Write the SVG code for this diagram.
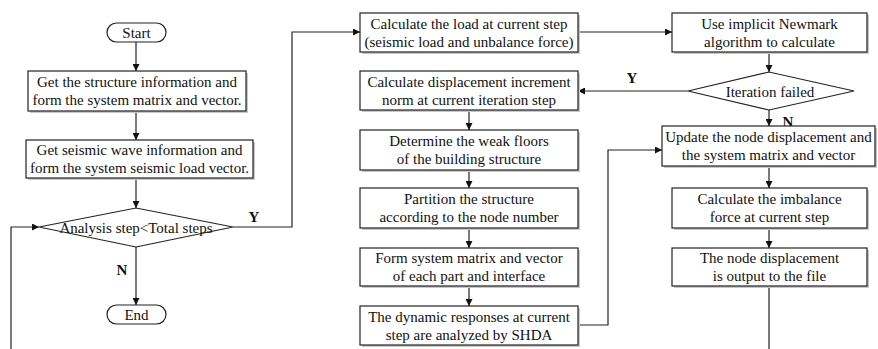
<svg xmlns="http://www.w3.org/2000/svg" width="878" height="349" viewBox="0 0 878 349">
<defs>
<marker id="arr" viewBox="0 0 10 10" refX="10" refY="5" markerWidth="7" markerHeight="7" markerUnits="userSpaceOnUse" orient="auto">
<path d="M0,0 L10,5 L0,10 z" fill="#111"/>
</marker>
</defs>
<style>
.bx{fill:#fff;stroke:#222;stroke-width:1.2}
.sh{fill:#c8c8c8;stroke:none}
.t{font-family:'Liberation Serif','Times New Roman',serif;font-size:15px;fill:#111;text-anchor:middle}
.lb{font-family:'Liberation Serif','Times New Roman',serif;font-size:15px;font-weight:bold;fill:#111;text-anchor:middle}
.c{fill:none;stroke:#222;stroke-width:1.2}
</style>
<rect width="878" height="349" fill="#fff"/>
<g id="connectors">
<path class="c" d="M136,42 V71" marker-end="url(#arr)"/>
<path class="c" d="M136,111 V140" marker-end="url(#arr)"/>
<path class="c" d="M136,178 V208" marker-end="url(#arr)"/>
<path class="c" d="M233,227 H292 V32 H360" marker-end="url(#arr)"/>
<path class="c" d="M136,247 V305" marker-end="url(#arr)"/>
<path class="c" d="M11,349 V227 H39" marker-end="url(#arr)"/>
<path class="c" d="M578,32 H672" marker-end="url(#arr)"/>
<path class="c" d="M769,52 V72" marker-end="url(#arr)"/>
<path class="c" d="M688,91 H578" marker-end="url(#arr)"/>
<path class="c" d="M769,110 V126" marker-end="url(#arr)"/>
<path class="c" d="M769,166 V188" marker-end="url(#arr)"/>
<path class="c" d="M769,228 V248" marker-end="url(#arr)"/>
<path class="c" d="M769,286 V349"/>
<path class="c" d="M469,110 V130" marker-end="url(#arr)"/>
<path class="c" d="M469,170 V188" marker-end="url(#arr)"/>
<path class="c" d="M469,228 V248" marker-end="url(#arr)"/>
<path class="c" d="M469,286 V306" marker-end="url(#arr)"/>
<path class="c" d="M578,325 H608 V150 H662" marker-end="url(#arr)"/>
<text class="lb" x="254" y="222">Y</text>
<text class="lb" x="122" y="275">N</text>
<text class="lb" x="632" y="83">Y</text>
<text class="lb" x="788" y="127">N</text>
</g>
<g id="start">
<rect class="bx" x="107" y="23" width="59" height="19" rx="9.5"/>
<text class="t" x="136.5" y="37.5">Start</text>
</g>
<g id="get-structure">
<rect class="sh" x="30" y="73" width="218" height="40"/>
<rect class="bx" x="28" y="71" width="218" height="40"/>
<text class="t" x="137" y="87">Get the structure information and</text>
<text class="t" x="137" y="105">form the system matrix and vector.</text>
</g>
<g id="get-seismic">
<rect class="sh" x="28" y="142" width="227" height="38"/>
<rect class="bx" x="26" y="140" width="227" height="38"/>
<text class="t" x="139.5" y="155">Get seismic wave information and</text>
<text class="t" x="139.5" y="173">form the system seismic load vector.</text>
</g>
<g id="analysis-step">
<polygon class="bx" points="39,227 136,208 233,227 136,247"/>
<text class="t" x="136" y="232.5">Analysis step&lt;Total steps</text>
</g>
<g id="end">
<rect class="bx" x="107" y="305" width="59" height="19" rx="9.5"/>
<text class="t" x="136.5" y="319.5">End</text>
</g>
<g id="calc-load">
<rect class="sh" x="362" y="15" width="218" height="39"/>
<rect class="bx" x="360" y="13" width="218" height="39"/>
<text class="t" x="469" y="28.5">Calculate the load at current step</text>
<text class="t" x="469" y="46.5">(seismic load and unbalance force)</text>
</g>
<g id="calc-disp">
<rect class="sh" x="362" y="73" width="218" height="39"/>
<rect class="bx" x="360" y="71" width="218" height="39"/>
<text class="t" x="469" y="86.5">Calculate displacement increment</text>
<text class="t" x="469" y="104.5">norm at current iteration step</text>
</g>
<g id="weak-floors">
<rect class="sh" x="362" y="132" width="218" height="40"/>
<rect class="bx" x="360" y="130" width="218" height="40"/>
<text class="t" x="469" y="146">Determine the weak floors</text>
<text class="t" x="469" y="164">of the building structure</text>
</g>
<g id="partition">
<rect class="sh" x="362" y="190" width="218" height="40"/>
<rect class="bx" x="360" y="188" width="218" height="40"/>
<text class="t" x="469" y="204">Partition the structure</text>
<text class="t" x="469" y="222">according to the node number</text>
</g>
<g id="form-matrix">
<rect class="sh" x="362" y="250" width="218" height="38"/>
<rect class="bx" x="360" y="248" width="218" height="38"/>
<text class="t" x="469" y="263">Form system matrix and vector</text>
<text class="t" x="469" y="281">of each part and interface</text>
</g>
<g id="shda">
<rect class="sh" x="362" y="308" width="218" height="39"/>
<rect class="bx" x="360" y="306" width="218" height="39"/>
<text class="t" x="469" y="321.5">The dynamic responses at current</text>
<text class="t" x="469" y="339.5">step are analyzed by SHDA</text>
</g>
<g id="newmark">
<rect class="sh" x="674" y="15" width="195" height="39"/>
<rect class="bx" x="672" y="13" width="195" height="39"/>
<text class="t" x="769.5" y="28.5">Use implicit Newmark</text>
<text class="t" x="769.5" y="46.5">algorithm to calculate</text>
</g>
<g id="iteration-failed">
<polygon class="bx" points="688,91 769,72 854,91 769,110"/>
<text class="t" x="770" y="96.5">Iteration failed</text>
</g>
<g id="update">
<rect class="sh" x="664" y="128" width="213" height="40"/>
<rect class="bx" x="662" y="126" width="213" height="40"/>
<text class="t" x="768.5" y="142">Update the node displacement and</text>
<text class="t" x="768.5" y="160">the system matrix and vector</text>
</g>
<g id="imbalance">
<rect class="sh" x="674" y="190" width="195" height="40"/>
<rect class="bx" x="672" y="188" width="195" height="40"/>
<text class="t" x="769.5" y="204">Calculate the imbalance</text>
<text class="t" x="769.5" y="222">force at current step</text>
</g>
<g id="output">
<rect class="sh" x="674" y="250" width="195" height="38"/>
<rect class="bx" x="672" y="248" width="195" height="38"/>
<text class="t" x="769.5" y="263">The node displacement</text>
<text class="t" x="769.5" y="281">is output to the file</text>
</g>
</svg>
